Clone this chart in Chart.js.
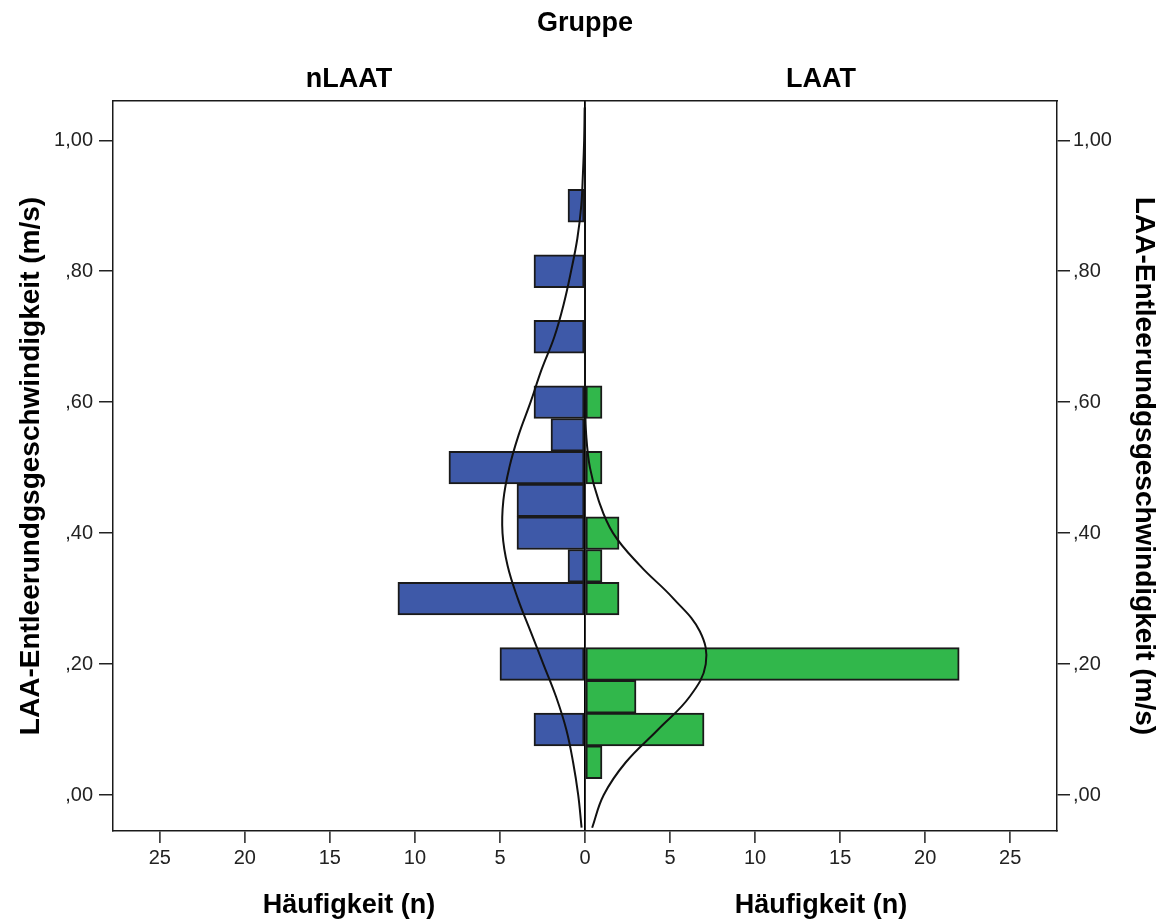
<!DOCTYPE html>
<html lang="de">
<head>
<meta charset="utf-8">
<title>LAA-Entleerungsgeschwindigkeit nach Gruppe</title>
<script src="https://cdn.jsdelivr.net/npm/chart.js@4.4.1/dist/chart.umd.min.js"></script>
<style>
  html, body { margin: 0; padding: 0; background: #fff; }
  #wrap { position: relative; width: 1163px; height: 920px; }
</style>
</head>
<body>
<div id="wrap"><canvas id="myChart"></canvas></div>
<script>
// histogram bins (m/s) and counts per group
const binCenters = [0.05, 0.10, 0.15, 0.20, 0.25, 0.30, 0.35, 0.40, 0.45, 0.50, 0.55, 0.60, 0.65, 0.70, 0.75, 0.80, 0.85, 0.90];
const nlaatCounts = [0, 3, 0, 5, 0, 11, 1, 4, 4, 8, 2, 3, 0, 3, 0, 3, 0, 1];
const laatCounts  = [1, 7, 3, 22, 0, 2, 1, 2, 0, 1, 0, 1, 0, 0, 0, 0, 0, 0];

const curveLevels = [-0.05, 0.00, 0.05, 0.10, 0.15, 0.20, 0.25, 0.30, 0.35, 0.40, 0.45, 0.50,
                     0.55, 0.60, 0.65, 0.70, 0.75, 0.80, 0.85, 0.90, 0.95, 1.00, 1.05];
const nlaatCurve = [0.2, 0.4, 0.7, 1.1, 1.7, 2.45, 3.2, 3.95, 4.55, 4.85, 4.8, 4.45,
                    3.9, 3.2, 2.55, 1.8, 1.25, 0.82, 0.45, 0.22, 0.12, 0.05, 0.02];
const laatCurve  = [0.42, 1.1, 2.4, 4.3, 6.15, 7.1, 6.75, 5.2, 3.25, 1.65, 0.8, 0.29,
                    0.07, 0.01, 0, 0, 0, 0, 0, 0, 0, 0, 0];

const groupNames = ['nLAAT', 'LAAT'];
const yTicks = [0, 0.2, 0.4, 0.6, 0.8, 1.0];
const yTickLabels = [',00', ',20', ',40', ',60', ',80', '1,00'];
const xTicks = [-25, -20, -15, -10, -5, 0, 5, 10, 15, 20, 25];
const xTickLabels = ['25', '20', '15', '10', '5', '0', '5', '10', '15', '20', '25'];
const yRange = [-0.055, 1.06];
const xRange = [-27.75, 27.75];

const speedTitle = 'LAA-Entleerundgsgeschwindigkeit (m/s)';
const countTitle = 'Häufigkeit (n)';

Chart.defaults.font.family = "'Liberation Sans', Arial, sans-serif";
Chart.defaults.color = '#000';

// nLAAT goes to the left (negative), LAAT to the right
const toBars = (counts, sign) => binCenters
  .map((y, i) => ({ x: sign * counts[i], y: y }))
  .filter(p => p.x !== 0);
const toCurve = (values, sign) => curveLevels.map((y, i) => ({ x: sign * values[i], y: y }));

const ink = '#1a1a1a';
const boldFont = { size: 27, weight: 'bold' };
const tickFont = { size: 20 };

const halfTicks = axis => { axis.ticks = [{ value: xRange[0] / 2 }, { value: xRange[1] / 2 }]; };
const speedTicks = axis => { axis.ticks = yTicks.map(v => ({ value: v })); };

const curveStyle = {
  type: 'line', borderColor: '#111', borderWidth: 2, pointRadius: 0,
  tension: 0.4, fill: false, order: 0
};
const barStyle = {
  borderColor: ink, borderWidth: 2, borderSkipped: false, grouped: false,
  barPercentage: 1, categoryPercentage: 1, order: 1
};

const config = {
  type: 'bar',
  data: {
    datasets: [
      Object.assign({ data: toCurve(nlaatCurve, -1) }, curveStyle),
      Object.assign({ data: toCurve(laatCurve, 1) }, curveStyle),
      Object.assign({ label: groupNames[0], data: toBars(nlaatCounts, -1), backgroundColor: '#3e59a8' }, barStyle),
      Object.assign({ label: groupNames[1], data: toBars(laatCounts, 1), backgroundColor: '#31b74b' }, barStyle)
    ]
  },
  options: {
    indexAxis: 'y',
    responsive: true,
    maintainAspectRatio: false,
    animation: false,
    layout: { padding: 0 },
    plugins: { legend: { display: false }, tooltip: { enabled: false } },
    scales: {
      x: {
        type: 'linear', position: 'bottom', min: xRange[0], max: xRange[1],
        afterBuildTicks: axis => { axis.ticks = xTicks.map(v => ({ value: v })); },
        afterFit: axis => { axis.height = 50; },
        ticks: { callback: (v, i) => xTickLabels[i], font: tickFont, color: '#222', padding: 3, autoSkip: false, maxRotation: 0 },
        grid: {
          color: c => (c.tick && c.tick.value === 0 ? '#000' : 'rgba(0,0,0,0)'),
          lineWidth: 1.8, tickColor: '#222', tickWidth: 1.5, tickLength: 12
        },
        border: { color: ink, width: 1.5 }
      },
      x3: {
        type: 'linear', position: 'bottom', weight: 1, min: xRange[0], max: xRange[1],
        afterBuildTicks: halfTicks,
        afterFit: axis => { axis.height = 39; },
        ticks: { callback: () => countTitle, font: boldFont, padding: 8, autoSkip: false, maxRotation: 0 },
        grid: { display: false, drawTicks: false },
        border: { display: false }
      },
      x2: {
        type: 'linear', position: 'top', min: xRange[0], max: xRange[1],
        afterBuildTicks: halfTicks,
        afterFit: axis => { axis.height = 101; },
        ticks: { callback: (v, i) => groupNames[i], font: boldFont, padding: 5, autoSkip: false, maxRotation: 0 },
        grid: { display: false, drawTicks: false },
        border: { color: ink, width: 1.5 },
        title: { display: true, text: 'Gruppe', font: boldFont, padding: { top: 7 } }
      },
      y: {
        type: 'linear', position: 'left', min: yRange[0], max: yRange[1], offset: false,
        afterBuildTicks: speedTicks,
        afterFit: axis => { axis.width = 113; },
        ticks: { callback: (v, i) => yTickLabels[i], font: tickFont, color: '#222', padding: 6 },
        grid: { drawOnChartArea: false, offset: false, tickLength: 14, color: '#222', lineWidth: 1.5 },
        border: { color: ink, width: 1.5 },
        title: { display: true, text: speedTitle, font: { size: 28, weight: 'bold' }, padding: { top: 14 } }
      },
      y2: {
        type: 'linear', position: 'right', min: yRange[0], max: yRange[1], offset: false,
        afterBuildTicks: speedTicks,
        afterFit: axis => { axis.width = 106; },
        ticks: { callback: (v, i) => yTickLabels[i], font: tickFont, color: '#222', padding: 3 },
        grid: { drawOnChartArea: false, offset: false, tickLength: 13, color: '#222', lineWidth: 1.5 },
        border: { color: ink, width: 1.5 },
        title: { display: true, text: speedTitle, font: { size: 28, weight: 'bold' }, padding: { top: 2 } }
      }
    }
  }
};

const myChart = new Chart(document.getElementById('myChart'), config);
</script>
</body>
</html>
